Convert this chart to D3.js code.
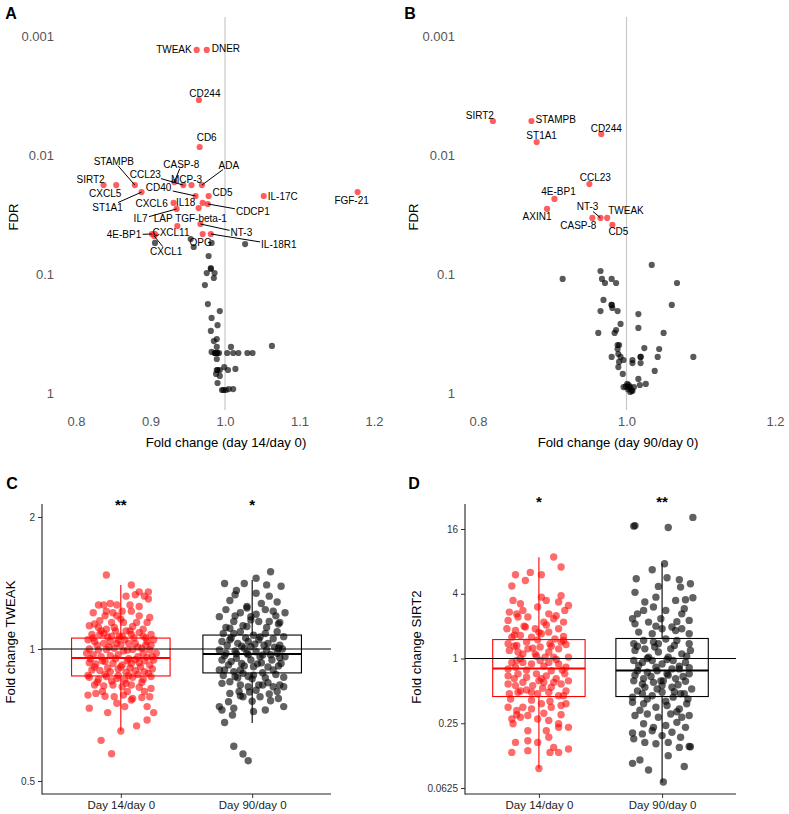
<!DOCTYPE html>
<html>
<head>
<meta charset="utf-8">
<script src="https://cdn.jsdelivr.net/npm/d3@7"></script>
<style>
  html, body { margin: 0; padding: 0; background: #fff; }
  svg { display: block; }
</style>
</head>
<body>
<svg id="chart" width="789" height="814"></svg>
<script>
// ---------------- DATA ----------------
// Panel A: day 14 / day 0 (significant, labelled)
const proteinsA = ["TWEAK","DNER","CD244","CD6","SIRT2","CXCL5","STAMPB","ST1A1","CCL23","CASP-8","MCP-3","ADA","CD40","CD5","IL-17C","FGF-21","CXCL6","IL18","","CDCP1","IL7","LAP TGF-beta-1","NT-3","4E-BP1","CXCL11","CXCL1","IL-18R1","OPG"];
const fcA  = [0.962,0.9755,0.965,0.966,0.837,0.854,0.879,0.888,0.944,0.932,0.955,0.969,0.9605,0.978,1.052,1.178,0.931,0.9646,0.970,0.977,0.935,0.936,0.967,0.902,0.906,0.905,0.981,0.970];
const fdrA = [0.00131,0.00131,0.00345,0.00857,0.0179,0.0179,0.0179,0.0205,0.0179,0.0169,0.0179,0.0179,0.0221,0.0221,0.0221,0.0205,0.0253,0.0279,0.0253,0.0258,0.0284,0.0395,0.038,0.0461,0.0461,0.048,0.0461,0.0461];
// Panel A: not significant
const greyFcA  = [0.906,0.954,0.958,0.982,1.027,0.978,0.981,0.981,0.9755,0.986,0.985,0.973,0.977,0.993,0.982,0.990,0.981,0.989,0.985,0.989,1.008,1.063,0.982,0.988,0.992,0.986,0.990,1.003,1.011,1.018,1.030,1.037,0.989,0.999,0.990,1.004,1.014,0.988,0.993,0.990,0.996,1.001,1.005,1.011,0.989,0.987,0.989,0.998,0.993];
const greyFdrA = [0.0548,0.0508,0.0593,0.0548,0.056,0.0706,0.0891,0.0908,0.0982,0.0982,0.108,0.124,0.179,0.205,0.234,0.269,0.301,0.352,0.366,0.410,0.410,0.402,0.452,0.461,0.461,0.461,0.461,0.461,0.461,0.461,0.461,0.461,0.518,0.605,0.641,0.641,0.628,0.692,0.719,0.824,0.944,0.944,0.926,0.926,0.461,0.461,0.641,0.944,0.641];

// Panel B: day 90 / day 0
const proteinsB = ["SIRT2","STAMPB","CD244","ST1A1","CCL23","4E-BP1","AXIN1","CASP-8","NT-3","TWEAK","CD5"];
const fcB  = [0.820,0.872,0.966,0.879,0.950,0.903,0.893,0.954,0.965,0.974,0.981];
const fdrB = [0.00518,0.00518,0.00667,0.00778,0.01754,0.0234,0.0284,0.0338,0.0338,0.0338,0.0387];
const greyFcB  = [1.034,0.965,0.914,0.967,0.980,0.971,0.986,1.068,0.969,0.980,0.981,0.965,0.988,1.061,1.016,0.992,1.016,0.986,0.984,0.962,1.050,0.990,0.988,1.024,1.044,0.989,0.980,0.992,1.019,1.042,1.090,0.996,1.008,0.990,1.008,1.019,0.989,1.038,0.995,1.016,1.026,1.018,0.996,1.001,1.005,1.010,1.005,1.008,1.003,0.980,0.988,1.019,1.003,1.007,0.999,1.002];
const greyFdrB = [0.0839,0.0944,0.110,0.110,0.110,0.119,0.119,0.119,0.165,0.182,0.193,0.205,0.205,0.182,0.217,0.263,0.284,0.296,0.313,0.313,0.313,0.395,0.427,0.419,0.427,0.470,0.498,0.498,0.498,0.498,0.498,0.528,0.528,0.548,0.560,0.560,0.605,0.653,0.692,0.762,0.839,0.857,0.891,0.839,0.891,0.891,0.98,0.962,0.857,0.182,0.395,0.498,0.891,0.95,0.88,0.93];

const fdrTicks = [0.001, 0.01, 0.1, 1];
const fcTicksA = [0.8, 0.9, 1.0, 1.1, 1.2];
const fcTicksB = [0.8, 1.0, 1.2];

// Panels C / D
const categories = ["Day 14/day 0", "Day 90/day 0"];
// [jitter (category units), fold change]
const tweakDay14 = [[-0.11,1.475],[0.08,1.40],[0.21,1.35],[0.14,1.35],[0.04,1.32],[0.11,1.33],[0.18,1.32],[0.21,1.30],[-0.17,1.26],[-0.13,1.26],[-0.08,1.27],[-0.03,1.26],[0.07,1.26],[0.14,1.25],[0.01,1.22],[0.08,1.22],[-0.21,1.21],[-0.11,1.22],[-0.06,1.21],[-0.03,1.19],[0.22,1.18],[-0.16,1.16],[-0.07,1.15],[0.02,1.15],[0.12,1.15],[0.20,1.15],[-0.24,1.13],[-0.17,1.12],[-0.11,1.11],[-0.05,1.12],[0.04,1.10],[0.14,1.09],[0.23,1.08],[-0.22,1.08],[-0.16,1.08],[-0.07,1.07],[-0.01,1.07],[0.08,1.08],[0.17,1.07],[-0.25,1.05],[-0.20,1.04],[-0.13,1.03],[-0.08,1.04],[-0.03,1.03],[0.03,1.05],[0.11,1.03],[0.20,1.04],[0.23,1.02],[-0.24,1.00],[-0.17,0.995],[-0.11,0.998],[-0.05,1.004],[0.02,0.99],[0.09,0.998],[0.16,1.004],[0.22,0.995],[-0.21,0.97],[-0.15,0.96],[-0.08,0.965],[-0.02,0.97],[0.06,0.95],[0.13,0.96],[0.20,0.957],[0.25,0.944],[-0.24,0.93],[-0.19,0.924],[-0.12,0.936],[-0.06,0.927],[0.01,0.92],[0.08,0.927],[0.14,0.93],[0.22,0.92],[-0.22,0.896],[-0.16,0.893],[-0.08,0.888],[-0.02,0.90],[0.04,0.885],[0.11,0.893],[0.18,0.888],[0.24,0.90],[-0.24,0.862],[-0.17,0.853],[-0.11,0.865],[-0.03,0.857],[0.03,0.85],[0.09,0.862],[0.17,0.853],[0.23,0.865],[-0.20,0.828],[-0.13,0.824],[-0.06,0.828],[0.01,0.82],[0.08,0.828],[0.14,0.818],[0.23,0.813],[-0.25,0.785],[-0.19,0.792],[-0.12,0.78],[-0.05,0.778],[0.02,0.785],[0.09,0.771],[0.16,0.775],[0.22,0.778],[-0.24,0.733],[-0.10,0.716],[-0.03,0.752],[0.03,0.739],[0.08,0.765],[0.20,0.739],[0.25,0.716],[0.20,0.689],[0.12,0.668],[0.00,0.65],[-0.15,0.619],[-0.07,0.577],[0.05,0.995],[-0.02,1.05],[0.17,0.978],[-0.13,1.085],[0.09,1.125],[-0.26,0.978],[0.25,1.05],[0.27,0.978],[-0.18,1.02],[-0.09,1.01],[0.00,1.02],[0.06,1.03],[0.13,1.01],[0.19,1.02],[-0.23,0.95],[-0.14,0.94],[-0.04,0.95],[0.05,0.94],[0.11,0.945],[0.18,0.94],[0.24,0.96],[-0.20,0.91],[-0.10,0.905],[0.00,0.91],[0.07,0.905],[0.15,0.91],[0.21,0.88],[-0.25,0.87],[-0.12,0.875],[-0.02,0.87],[0.06,0.87],[0.13,0.875],[-0.18,0.84],[-0.07,0.845],[0.04,0.835],[0.16,0.84],[-0.21,1.06],[-0.10,1.065],[0.01,1.07],[0.10,1.06],[0.19,1.06],[-0.15,1.10],[-0.04,1.10],[0.07,1.10],[0.17,1.11],[-0.20,1.14],[0.00,1.17],[0.14,1.19],[-0.12,1.19],[0.05,0.80],[-0.14,0.80],[0.18,0.80]];
const tweakDay90 = [[0.14,1.50],[0.03,1.45],[-0.21,1.41],[-0.06,1.41],[0.11,1.40],[0.22,1.39],[-0.12,1.36],[-0.13,1.33],[0.03,1.34],[0.13,1.32],[-0.17,1.29],[-0.04,1.25],[0.07,1.27],[0.19,1.28],[-0.25,1.185],[-0.20,1.23],[-0.09,1.21],[-0.01,1.165],[0.10,1.23],[0.16,1.22],[0.25,1.21],[-0.14,1.155],[-0.04,1.125],[0.05,1.155],[0.13,1.155],[0.21,1.15],[-0.22,1.085],[-0.17,1.115],[-0.09,1.095],[0.01,1.075],[0.10,1.085],[0.19,1.095],[0.24,1.067],[-0.23,1.04],[-0.17,1.05],[-0.11,1.03],[-0.03,1.04],[0.05,1.05],[0.12,1.03],[0.21,1.02],[-0.25,0.995],[-0.20,0.978],[-0.13,0.99],[-0.06,1.004],[0.03,0.986],[0.11,0.995],[0.19,0.978],[0.25,0.96],[-0.23,0.944],[-0.16,0.936],[-0.08,0.927],[-0.01,0.944],[0.07,0.93],[0.15,0.944],[0.22,0.927],[-0.21,0.896],[-0.14,0.888],[-0.07,0.88],[0.01,0.872],[0.08,0.883],[0.16,0.896],[0.24,0.862],[-0.23,0.835],[-0.17,0.842],[-0.09,0.828],[-0.03,0.82],[0.05,0.828],[0.12,0.838],[0.21,0.828],[-0.17,0.792],[-0.09,0.782],[-0.02,0.798],[0.06,0.778],[0.13,0.79],[0.20,0.771],[-0.25,0.739],[-0.14,0.733],[-0.07,0.778],[0.01,0.72],[0.10,0.726],[0.24,0.739],[-0.18,0.758],[-0.23,0.726],[-0.15,0.707],[-0.21,0.68],[-0.14,0.60],[-0.07,0.576],[-0.03,0.556],[-0.04,0.978],[-0.01,1.012],[-0.12,0.952],[0.08,0.969],[-0.09,0.896],[0.01,0.911],[0.20,1.004],[-0.14,1.085],[-0.25,0.896],[0.24,0.82],[-0.04,1.24],[-0.01,1.185],[0.08,0.828],[0.16,0.82],[-0.03,0.865],[-0.13,0.865],[0.03,0.805],[0.14,0.762],[-0.19,1.02],[-0.08,1.015],[0.02,1.025],[0.09,1.02],[0.17,1.01],[0.23,1.00],[-0.21,0.965],[-0.12,0.975],[-0.03,0.97],[0.06,0.96],[0.14,0.97],[0.21,0.955],[-0.18,0.92],[-0.06,0.915],[0.04,0.925],[0.12,0.91],[0.20,0.915],[-0.22,0.87],[-0.11,0.86],[0.00,0.855],[0.10,0.86],[0.18,0.875],[-0.16,1.06],[-0.05,1.06],[0.06,1.065],[0.16,1.055],[-0.20,1.12],[-0.07,1.13],[0.11,1.12],[0.20,1.14],[-0.13,1.19],[0.03,1.20],[0.18,1.19],[-0.10,0.80],[0.00,0.76],[0.19,0.80]];
const sirt2Day14 = [[0.12,8.78],[0.18,7.09],[-0.19,6.01],[-0.11,5.32],[-0.07,6.32],[0.02,6.01],[-0.22,4.72],[0.02,3.72],[0.18,3.83],[0.06,3.47],[-0.21,3.47],[-0.15,3.23],[0.16,3.35],[0.24,3.11],[-0.24,2.70],[-0.18,2.60],[-0.13,2.80],[-0.01,3.01],[0.08,2.60],[0.21,2.80],[-0.25,2.26],[-0.17,2.43],[-0.09,2.43],[0.04,2.18],[0.12,2.34],[0.20,2.18],[-0.26,1.89],[-0.19,1.82],[-0.11,1.96],[-0.03,1.89],[0.08,1.76],[0.16,1.89],[-0.22,1.58],[-0.15,1.64],[-0.06,1.58],[0.02,1.70],[0.13,1.52],[0.20,1.47],[-0.25,1.37],[-0.18,1.32],[-0.10,1.42],[-0.01,1.49],[0.09,1.37],[0.18,1.42],[-0.24,1.19],[-0.17,1.15],[-0.09,1.23],[0.01,1.28],[0.08,1.15],[0.16,1.23],[0.24,1.03],[-0.25,0.80],[-0.19,0.83],[-0.13,0.92],[-0.06,0.89],[0.01,0.958],[0.08,0.92],[0.16,0.89],[0.22,0.83],[-0.25,0.69],[-0.17,0.72],[-0.10,0.67],[-0.02,0.72],[0.06,0.69],[0.14,0.65],[0.21,0.72],[-0.25,0.58],[-0.19,0.56],[-0.13,0.60],[-0.05,0.56],[0.04,0.60],[0.10,0.54],[0.18,0.58],[0.24,0.62],[-0.24,0.47],[-0.17,0.486],[-0.10,0.51],[-0.01,0.47],[0.08,0.486],[0.16,0.45],[0.22,0.50],[-0.25,0.352],[-0.18,0.328],[-0.13,0.352],[-0.06,0.34],[0.02,0.379],[0.10,0.352],[0.18,0.365],[-0.22,0.274],[-0.15,0.284],[-0.09,0.295],[-0.01,0.274],[0.08,0.265],[0.16,0.247],[0.24,0.229],[-0.21,0.247],[-0.09,0.213],[0.06,0.213],[0.16,0.229],[-0.19,0.166],[-0.09,0.172],[-0.01,0.166],[0.08,0.185],[0.12,0.149],[0.24,0.144],[-0.22,0.134],[-0.09,0.139],[0.09,0.134],[0.16,0.134],[0.00,0.095],[-0.13,1.105],[0.05,1.03],[-0.18,0.958],[0.12,1.03],[-0.03,1.105],[0.02,0.65],[-0.06,0.486],[0.10,0.77],[-0.20,1.30],[-0.05,1.25],[0.10,1.30],[0.22,1.35],[-0.15,1.00],[-0.02,1.05],[0.14,0.98],[-0.22,0.92],[0.04,0.85],[0.19,0.78],[-0.10,0.78],[-0.20,0.65],[0.00,0.62],[0.12,0.60],[-0.15,0.50],[0.03,0.53],[0.20,0.45],[-0.23,0.42],[-0.06,0.41],[0.09,0.40],[0.22,0.38],[-0.18,0.30],[0.04,0.31],[0.18,0.30],[-0.12,2.00],[0.06,2.05],[0.20,1.60],[-0.20,1.65],[0.00,1.75],[0.14,2.50]];
const sirt2Day90 = [[0.25,20.5],[-0.22,17.2],[-0.23,17.0],[0.05,16.5],[0.02,7.61],[-0.08,6.69],[-0.21,5.52],[0.04,5.64],[0.14,5.40],[0.23,4.96],[-0.03,4.68],[-0.22,4.12],[0.15,4.61],[-0.14,3.35],[-0.05,3.72],[0.11,3.47],[0.19,3.52],[0.25,3.67],[-0.24,2.34],[-0.15,2.80],[-0.07,3.01],[0.03,2.80],[0.16,2.60],[0.22,2.26],[-0.22,2.10],[-0.11,2.18],[-0.01,2.34],[0.08,1.96],[0.16,1.89],[-0.19,1.76],[-0.08,1.70],[0.00,1.89],[0.11,1.82],[0.22,1.70],[-0.23,1.37],[-0.15,1.47],[-0.07,1.42],[0.03,1.52],[0.12,1.47],[0.22,1.37],[-0.22,1.19],[-0.14,1.23],[-0.03,1.15],[0.07,1.23],[0.16,1.105],[0.23,1.19],[-0.23,0.958],[-0.16,0.92],[-0.08,0.958],[0.00,0.89],[0.09,0.958],[0.19,0.92],[-0.20,0.77],[-0.12,0.746],[-0.04,0.77],[0.04,0.72],[0.14,0.80],[0.22,0.72],[-0.23,0.62],[-0.15,0.65],[-0.07,0.60],[0.01,0.62],[0.11,0.65],[0.19,0.615],[0.24,0.52],[-0.24,0.437],[-0.16,0.47],[-0.08,0.45],[0.00,0.486],[0.09,0.437],[0.18,0.47],[-0.24,0.392],[-0.15,0.379],[-0.05,0.352],[0.04,0.365],[0.14,0.34],[0.20,0.379],[-0.22,0.295],[-0.12,0.305],[-0.03,0.284],[0.07,0.305],[0.16,0.284],[0.22,0.295],[-0.15,0.247],[-0.07,0.229],[0.03,0.238],[0.12,0.255],[0.19,0.229],[-0.24,0.203],[-0.16,0.199],[-0.08,0.213],[0.00,0.192],[0.08,0.206],[0.15,0.185],[-0.23,0.179],[-0.14,0.166],[-0.05,0.161],[0.05,0.166],[0.22,0.152],[0.23,0.151],[0.14,0.149],[-0.24,0.106],[-0.18,0.114],[-0.11,0.092],[0.05,0.125],[0.18,0.099],[0.01,0.071],[-0.11,1.03],[0.05,1.03],[-0.03,1.37],[-0.01,0.62],[-0.14,0.54],[0.08,0.54],[0.15,0.47],[-0.20,1.30],[-0.06,1.28],[0.10,1.32],[0.20,1.05],[-0.12,1.00],[0.04,0.98],[0.14,0.85],[-0.19,0.86],[-0.05,0.83],[0.08,0.80],[0.22,0.82],[-0.22,0.70],[-0.09,0.68],[0.05,0.70],[0.17,0.68],[-0.16,0.58],[0.00,0.56],[0.13,0.57],[-0.20,0.50],[-0.04,0.52],[0.10,0.49],[0.21,0.42],[-0.12,0.42],[0.03,0.40],[-0.18,0.33],[0.12,0.32],[-0.05,2.00],[0.12,2.20],[-0.20,2.60],[0.18,2.90]];

// box statistics [day14, day90]
const tweakQ1 = [0.868, 0.882], tweakMedian = [0.954, 0.974], tweakQ3 = [1.059, 1.076];
const tweakLow = [0.650, 0.678], tweakHigh = [1.40, 1.437];
const sirt2Q1 = [0.443, 0.443], sirt2Median = [0.807, 0.773], sirt2Q3 = [1.50, 1.535];
const sirt2Low = [0.0947, 0.0702], sirt2High = [8.72, 7.66];
const tweakStars = ["**", "*"];
const sirt2Stars = ["*", "**"];
const tweakTicks = [0.5, 1, 2];
const sirt2Ticks = [0.0625, 0.25, 1, 4, 16];

// label layout (pixel offsets from point: dx, dy, anchor, segment)
const labelLayoutA = {
  "TWEAK":[-5,0,"end",0],"DNER":[5,-1,"start",0],"CD244":[6,-7,"middle",0],"CD6":[7,-10,"middle",0],
  "SIRT2":[-13,-6,"middle",0],"CXCL5":[-11,8,"middle",0],"STAMPB":[-21,-24,"middle",1],"ST1A1":[-34,15,"middle",1],
  "CCL23":[-38,-11,"middle",1],"CASP-8":[7,-18,"middle",1],"MCP-3":[-5,-6,"middle",0],"ADA":[27,-20,"middle",1],
  "CD40":[-37,-8,"middle",1],"CD5":[14,-3,"middle",0],"IL-17C":[4,1,"start",0],"FGF-21":[-6,8,"middle",0],
  "CXCL6":[-22,1,"middle",0],"IL18":[-13,-6,"middle",0],"CDCP1":[45,8,"middle",1],"IL7":[-36,10,"middle",1],
  "LAP TGF-beta-1":[13,-7,"middle",0],"NT-3":[41,9,"middle",1],"4E-BP1":[-28,1,"middle",1],"CXCL11":[16,-1,"middle",0],
  "CXCL1":[12,15,"middle",1],"IL-18R1":[68,11,"middle",1],"OPG":[-2,9,"middle",0]
};
const labelLayoutB = {
  "SIRT2":[-13,-6,"middle",0],"STAMPB":[4,-2,"start",0],"CD244":[5,-6,"middle",0],"ST1A1":[5,-7,"middle",0],
  "CCL23":[6,-7,"middle",0],"4E-BP1":[4,-7,"middle",0],"AXIN1":[-10,8,"middle",0],"CASP-8":[-14,8,"middle",0],
  "NT-3":[-13,-11,"middle",1],"TWEAK":[1,-7,"start",0],"CD5":[6,7,"middle",0]
};

// ---------------- DRAW ----------------
const FONT = "'Liberation Sans', Arial, Helvetica, sans-serif";
const svg = d3.select("#chart");
svg.append("rect").attr("width", 789).attr("height", 814).attr("fill", "#fff");

function panelLetter(t, x, y) {
  svg.append("text").attr("x", x).attr("y", y).attr("text-anchor", "middle")
    .attr("dominant-baseline", "central").attr("font-family", FONT)
    .attr("font-size", 16).attr("font-weight", "bold").text(t);
}

function volcano(opts) {
  const x = d3.scaleLinear().domain([0.8, 1.2]).range(opts.xRange);
  const y = d3.scaleLog().domain([0.001, 1]).range([36, 393]);
  const g = svg.append("g");
  // reference line at fold change 1
  g.append("line").attr("x1", x(1)).attr("x2", x(1)).attr("y1", 17).attr("y2", 410)
    .attr("stroke", "#c8c8c8").attr("stroke-width", 1.2);
  // axes (no lines)
  const xa = g.append("g").attr("transform", `translate(0,414)`)
    .call(d3.axisBottom(x).tickValues(opts.xTicks).tickSize(0).tickPadding(3).tickFormat(d3.format(".1f")));
  const ya = g.append("g").attr("transform", `translate(${opts.yAxisX},0)`)
    .call(d3.axisLeft(y).tickValues(fdrTicks).tickSize(0).tickPadding(3).tickFormat(d => String(d)));
  [xa, ya].forEach(a => {
    a.select(".domain").remove();
    a.selectAll("text").attr("font-family", FONT).attr("font-size", 13).attr("fill", "#555");
  });
  // titles
  g.append("text").attr("x", opts.titleX).attr("y", 442).attr("text-anchor", "middle")
    .attr("dominant-baseline", "central").attr("font-family", FONT).attr("font-size", 13.2)
    .text(opts.title);
  g.append("text").attr("transform", `translate(${opts.fdrX},217) rotate(-90)`)
    .attr("text-anchor", "middle").attr("dominant-baseline", "central")
    .attr("font-family", FONT).attr("font-size", 13.2).text("FDR");
  // grey points
  g.append("g").selectAll("circle").data(d3.range(opts.greyFc.length)).join("circle")
    .attr("cx", i => x(opts.greyFc[i])).attr("cy", i => y(opts.greyFdr[i])).attr("r", 3.1)
    .attr("fill", "#000").attr("fill-opacity", 0.65);
  // red points
  g.append("g").selectAll("circle").data(d3.range(opts.fc.length)).join("circle")
    .attr("cx", i => x(opts.fc[i])).attr("cy", i => y(opts.fdr[i])).attr("r", 3.1)
    .attr("fill", "#ff2020").attr("fill-opacity", 0.72);
  // labels
  const lg = g.append("g");
  opts.names.forEach((name, i) => {
    if (!name || !opts.layout[name]) return;
    const [dx, dy, anchor, seg] = opts.layout[name];
    const px = x(opts.fc[i]), py = y(opts.fdr[i]);
    const t = lg.append("text").attr("x", px + dx).attr("y", py + dy)
      .attr("text-anchor", anchor).attr("dominant-baseline", "central")
      .attr("font-family", FONT).attr("font-size", 10).attr("fill", "#000").text(name);
    if (seg) {
      const b = t.node().getBBox();
      const cx = b.x + b.width / 2, cy = b.y + b.height / 2;
      const vx = px - cx, vy = py - cy;
      const hw = b.width / 2 + 1, hh = b.height / 2 - 1;
      const s = Math.min(Math.abs(vx) > 0 ? hw / Math.abs(vx) : Infinity, Math.abs(vy) > 0 ? hh / Math.abs(vy) : Infinity);
      const sx = cx + vx * Math.min(s, 1), sy = cy + vy * Math.min(s, 1);
      lg.insert("line", ":first-child").attr("x1", sx).attr("y1", sy).attr("x2", px).attr("y2", py)
        .attr("stroke", "#000").attr("stroke-width", 1);
    }
  });
}

volcano({ xRange: [76, 374], xTicks: fcTicksA, yAxisX: 57, titleX: 226, fdrX: 13,
  title: "Fold change (day 14/day 0)", names: proteinsA, fc: fcA, fdr: fdrA,
  greyFc: greyFcA, greyFdr: greyFdrA, layout: labelLayoutA });
volcano({ xRange: [478, 775], xTicks: fcTicksB, yAxisX: 458, titleX: 618, fdrX: 413,
  title: "Fold change (day 90/day 0)", names: proteinsB, fc: fcB, fdr: fdrB,
  greyFc: greyFcB, greyFdr: greyFdrB, layout: labelLayoutB });

panelLetter("A", 11, 13);
panelLetter("B", 410, 13);
panelLetter("C", 12, 483);
panelLetter("D", 414, 483);

function boxPanel(opts) {
  const x = d3.scalePoint().domain(categories).range([opts.x0, opts.x1]).padding(0.6);
  const step = x.step();
  const y = d3.scaleLog().base(2).domain(opts.yDomain).range(opts.yRange);
  const g = svg.append("g");
  const colors = ["#ff0000", "#000000"];
  // points
  [opts.d14, opts.d90].forEach((pts, k) => {
    g.append("g").selectAll("circle").data(pts).join("circle")
      .attr("cx", d => x(categories[k]) + d[0] * step).attr("cy", d => y(d[1])).attr("r", 3.7)
      .attr("fill", colors[k]).attr("fill-opacity", k === 0 ? 0.58 : 0.62);
  });
  // boxes
  categories.forEach((c, k) => {
    const cx = x(c), w = 0.75 * step;
    const bg = g.append("g").attr("stroke", colors[k]).attr("fill", "none");
    bg.append("line").attr("x1", cx).attr("x2", cx).attr("y1", y(opts.high[k])).attr("y2", y(opts.q3[k])).attr("stroke-width", 1.1);
    bg.append("line").attr("x1", cx).attr("x2", cx).attr("y1", y(opts.q1[k])).attr("y2", y(opts.low[k])).attr("stroke-width", 1.1);
    bg.append("rect").attr("x", cx - w / 2).attr("width", w).attr("y", y(opts.q3[k]))
      .attr("height", y(opts.q1[k]) - y(opts.q3[k])).attr("stroke-width", 1.1);
    bg.append("line").attr("x1", cx - w / 2).attr("x2", cx + w / 2)
      .attr("y1", y(opts.median[k])).attr("y2", y(opts.median[k])).attr("stroke-width", 2);
    g.append("text").attr("x", cx).attr("y", opts.starY).attr("text-anchor", "middle")
      .attr("dominant-baseline", "central").attr("font-family", FONT).attr("font-size", 15)
      .attr("font-weight", "bold").text(opts.stars[k]);
  });
  // reference line at 1
  g.append("line").attr("x1", opts.x0).attr("x2", opts.x1).attr("y1", y(1)).attr("y2", y(1))
    .attr("stroke", "#000").attr("stroke-width", 1.2);
  // axes
  const ya = g.append("g").attr("transform", `translate(${opts.x0},0)`)
    .call(d3.axisLeft(y).tickValues(opts.ticks).tickSize(4).tickPadding(3).tickFormat(d => String(d)));
  const xa = g.append("g").attr("transform", `translate(0,794)`)
    .call(d3.axisBottom(x).tickSize(4).tickPadding(3));
  [ya, xa].forEach(a => {
    a.select(".domain").remove();
    a.selectAll("line").attr("stroke", "#333");
  });
  ya.selectAll("text").attr("font-family", FONT).attr("font-size", 10).attr("fill", "#333");
  xa.selectAll("text").attr("font-family", FONT).attr("font-size", 11.5).attr("fill", "#222");
  g.append("line").attr("x1", opts.x0).attr("x2", opts.x0).attr("y1", 504).attr("y2", 794.5)
    .attr("stroke", "#222").attr("stroke-width", 1.1);
  g.append("line").attr("x1", opts.x0).attr("x2", opts.x1).attr("y1", 794).attr("y2", 794)
    .attr("stroke", "#222").attr("stroke-width", 1.1);
  g.append("text").attr("transform", `translate(${opts.titleX},${opts.titleY}) rotate(-90)`)
    .attr("text-anchor", "middle").attr("dominant-baseline", "central")
    .attr("font-family", FONT).attr("font-size", 13.2).text(opts.title);
}

boxPanel({ x0: 42, x1: 331, yDomain: [0.5, 2], yRange: [781, 517], d14: tweakDay14, d90: tweakDay90,
  q1: tweakQ1, median: tweakMedian, q3: tweakQ3, low: tweakLow, high: tweakHigh, stars: tweakStars,
  starY: 504, ticks: tweakTicks, title: "Fold change TWEAK", titleX: 10, titleY: 642 });
boxPanel({ x0: 465, x1: 736, yDomain: [0.0625, 16], yRange: [788, 529], d14: sirt2Day14, d90: sirt2Day90,
  q1: sirt2Q1, median: sirt2Median, q3: sirt2Q3, low: sirt2Low, high: sirt2High, stars: sirt2Stars,
  starY: 501, ticks: sirt2Ticks, title: "Fold change SIRT2", titleX: 416, titleY: 647 });
</script>
</body>
</html>
